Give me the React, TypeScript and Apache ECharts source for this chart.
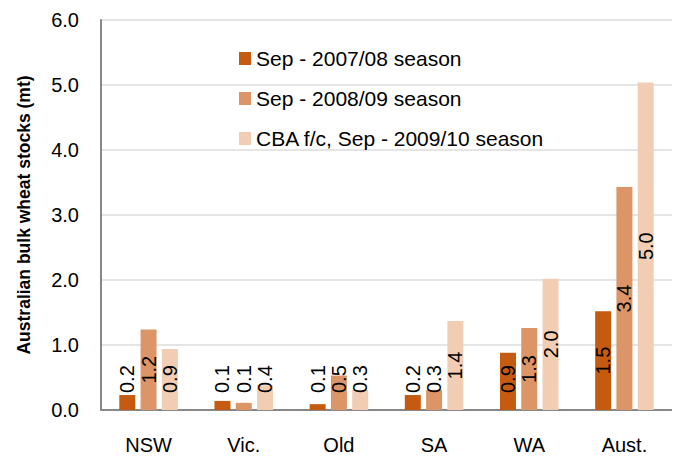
import React, { useEffect, useRef } from "react";
import * as echarts from "echarts";

const categories = ["NSW", "Vic.", "Qld", "SA", "WA", "Aust."];
const seriesNames = [
  "Sep - 2007/08 season",
  "Sep - 2008/09 season",
  "CBA f/c, Sep - 2009/10 season",
];
const stocks2007 = [0.23, 0.14, 0.09, 0.23, 0.88, 1.52];
const stocks2008 = [1.24, 0.11, 0.53, 0.31, 1.26, 3.43];
const stocks2009 = [0.94, 0.38, 0.31, 1.37, 2.02, 5.04];
const colors = ["#C55A11", "#DC9566", "#F1CDB4"];

const FONT = "Liberation Sans, Arial, sans-serif";
const LABEL_SIZE = 20;

function makeData(values: number[]) {
  return values.map((v) => {
    const small = v < 0.95;
    return {
      value: v,
      label: small
        ? {
            show: true,
            position: "insideBottom",
            distance: 17,
            rotate: 90,
            align: "left",
            verticalAlign: "middle",
            fontSize: LABEL_SIZE,
            fontFamily: FONT,
            color: "#000",
          }
        : {
            show: true,
            position: "inside",
            rotate: 90,
            align: "center",
            verticalAlign: "middle",
            fontSize: LABEL_SIZE,
            fontFamily: FONT,
            color: "#000",
          },
    };
  });
}

export default function App() {
  const ref = useRef<HTMLDivElement>(null);
  useEffect(() => {
    if (!ref.current) return;
    const chart = echarts.init(ref.current, undefined, { renderer: "svg" });
    const all = [stocks2007, stocks2008, stocks2009];
    chart.setOption({
      animation: false,
      grid: { left: 101, right: 8, top: 20, bottom: 50 },
      legend: {
        orient: "vertical",
        left: 234,
        top: 43,
        itemWidth: 12,
        itemHeight: 13,
        itemGap: 19,
        icon: "rect",
        textStyle: { fontFamily: FONT, fontSize: 21, color: "#000" },
        data: seriesNames,
      },
      xAxis: {
        type: "category",
        data: categories,
        axisLine: { lineStyle: { color: "#888", width: 2 } },
        axisTick: { show: false },
        axisLabel: { fontFamily: FONT, fontSize: 20, color: "#000", margin: 25 },
      },
      yAxis: {
        type: "value",
        min: 0,
        max: 6,
        interval: 1,
        name: "Australian bulk wheat stocks (mt)",
        nameLocation: "middle",
        nameGap: 68,
        nameTextStyle: { fontFamily: FONT, fontSize: 17.5, fontWeight: "bold", color: "#000" },
        axisLine: { show: true, lineStyle: { color: "#888", width: 2 } },
        axisTick: { show: false },
        splitLine: { lineStyle: { color: "#DDDDDD", width: 1.5 } },
        axisLabel: {
          fontFamily: FONT,
          fontSize: 20,
          color: "#000",
          margin: 22,
          formatter: (v: number) => v.toFixed(1),
        },
      },
      series: seriesNames.map((name, i) => ({
        name,
        type: "bar",
        barWidth: 16,
        barGap: "33%",
        itemStyle: { color: colors[i] },
        label: {
          show: true,
          fontFamily: FONT,
          fontSize: LABEL_SIZE,
          color: "#000",
          formatter: (p: any) => Number(p.value).toFixed(1),
        },
        data: makeData(all[i]),
      })),
    });
    return () => chart.dispose();
  }, []);
  return <div ref={ref} style={{ width: 680, height: 460, margin: -8 }} />;
}
